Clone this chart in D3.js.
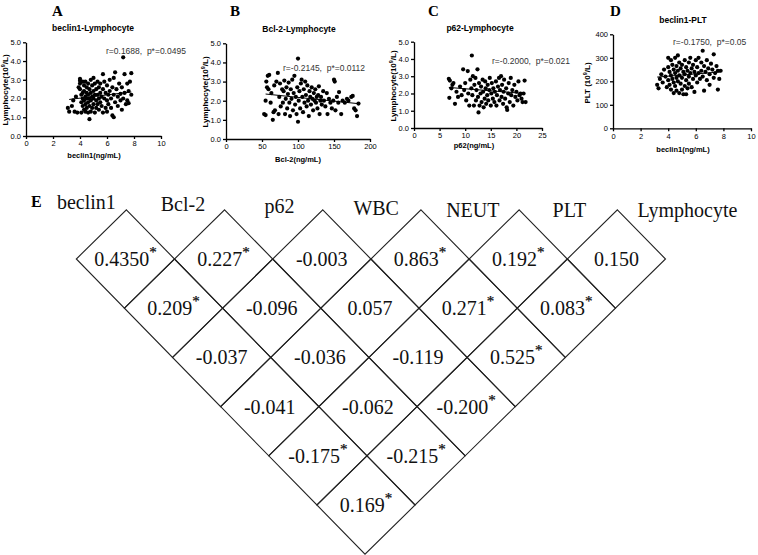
<!DOCTYPE html>
<html>
<head>
<meta charset="utf-8">
<script src="https://cdn.jsdelivr.net/npm/d3@7"></script>
<style>
  body { margin: 0; background: #fff; }
  svg { display: block; }
</style>
</head>
<body>
<svg width="758" height="555"></svg>
<script>
// scatter data: [x, y]
var ptsA = [
  [3.1,1.5],[3.2,1.3],[3.4,1.6],[3.5,1.9],[3.6,1.3],[3.7,2.1],[3.8,1.25],[3.9,2.6],[4.0,3.05],[4.0,2.95],
  [4.0,2.8],[4.0,2.5],[4.1,2.2],[4.1,1.25],[4.1,1.8],[4.2,2.9],[4.2,2.3],[4.2,2.0],[4.2,1.6],[4.3,2.7],
  [4.3,2.4],[4.3,1.9],[4.3,1.4],[4.4,2.9],[4.4,2.1],[4.4,1.7],[4.4,1.3],[4.5,2.6],[4.5,2.3],[4.5,2.0],
  [4.5,1.5],[4.6,2.8],[4.6,2.2],[4.6,1.8],[4.6,1.25],[4.7,0.9],[4.7,2.5],[4.7,2.0],[4.7,1.6],[4.8,3.0],
  [4.8,2.3],[4.8,1.9],[4.8,1.3],[4.9,2.7],[4.9,2.1],[4.9,1.5],[5.0,3.1],[5.0,2.4],[5.0,2.0],[5.0,1.7],
  [5.1,2.8],[5.1,2.2],[5.1,1.25],[5.2,2.5],[5.2,1.9],[5.2,1.5],[5.3,2.9],[5.3,2.2],[5.3,1.7],[5.4,2.6],
  [5.4,2.0],[5.4,1.4],[5.5,2.8],[5.5,2.3],[5.5,1.8],[5.6,2.1],[5.6,1.6],[5.7,3.3],[5.7,2.5],[5.7,1.25],
  [5.8,2.9],[5.8,2.0],[5.9,2.3],[5.9,1.5],[6.0,2.7],[6.0,1.9],[6.0,1.3],[6.1,2.2],[6.1,1.7],[6.2,3.0],
  [6.2,2.4],[6.3,2.0],[6.3,1.5],[6.4,1.1],[6.4,2.6],[6.5,1.0],[6.5,3.1],[6.5,2.2],[6.6,3.4],[6.6,1.8],
  [6.7,2.5],[6.8,2.1],[6.8,1.6],[6.9,2.8],[7.0,2.25],[7.0,1.9],[7.1,1.4],[7.1,2.6],[7.2,4.2],[7.2,2.0],
  [7.3,3.3],[7.3,2.3],[7.4,1.7],[7.5,2.8],[7.5,1.9],[7.6,1.75],[7.6,2.4],[7.7,2.9],[7.8,3.35],[7.8,2.2]
];
var lineA = [[3.2,1.95],[7.8,2.35]];

var ptsB = [
  [53,1.3],[55,1.25],[55,2.0],[56,3.0],[57,2.7],[58,3.3],[59,2.6],[60,3.35],[62,1.9],[63,2.4],
  [65,1.0],[66,1.4],[67,2.8],[68,1.5],[70,3.0],[72,3.45],[73,1.3],[74,2.2],[75,2.9],[76,1.7],
  [78,2.6],[79,1.9],[80,2.5],[81,3.05],[82,1.3],[83,2.1],[84,2.7],[85,1.6],[86,2.35],[87,2.95],
  [88,1.9],[89,1.2],[90,2.6],[91,2.1],[92,3.1],[93,1.5],[94,2.4],[95,3.3],[96,1.8],[97,2.2],
  [98,1.3],[99,2.7],[100,4.2],[100,0.9],[101,2.0],[102,2.5],[103,1.6],[104,2.9],[105,3.1],[106,2.2],
  [107,1.4],[108,2.6],[109,1.9],[110,3.0],[111,2.3],[112,1.7],[113,2.8],[114,2.0],[115,1.2],[116,2.5],
  [117,2.2],[118,1.8],[119,2.7],[120,2.1],[121,1.5],[122,2.4],[123,2.0],[124,2.6],[125,1.9],[126,2.2],
  [127,1.6],[128,2.3],[129,2.75],[130,1.3],[131,2.0],[132,2.2],[133,1.8],[135,2.5],[136,2.0],[138,1.7],
  [140,2.4],[141,1.3],[143,2.1],[145,1.9],[147,1.6],[149,2.0],[150,3.1],[151,3.0],[152,1.5],[154,2.2],
  [156,1.9],[157,2.45],[160,1.3],[162,2.0],[165,1.9],[168,2.1],[170,2.0],[174,2.2],[176,2.25],[178,1.6],
  [180,1.5],[182,1.2],[184,1.85]
];
var lineB = [[55,2.35],[183,1.85]];

var ptsC = [
  [6.8,2.85],[6.9,1.75],[7.0,2.75],[7.3,2.3],[7.5,2.5],[7.7,2.6],[8.0,1.4],[8.3,2.1],[8.6,1.8],[9.0,2.4],
  [9.3,1.9],[9.6,3.4],[9.8,2.2],[10.0,2.6],[10.2,1.6],[10.5,3.3],[10.6,2.0],[10.8,1.3],[11.0,2.8],[11.2,2.3],
  [11.3,4.2],[11.4,1.9],[11.5,3.0],[11.7,1.3],[11.8,2.5],[12.0,2.9],[12.1,1.6],[12.2,2.2],[12.4,3.4],[12.5,1.8],
  [12.6,0.9],[12.7,2.6],[12.8,1.3],[13.0,2.0],[13.1,2.4],[13.2,1.5],[13.4,2.8],[13.5,2.1],[13.6,1.2],[13.8,1.7],
  [13.9,2.7],[14.0,2.3],[14.1,1.4],[14.3,1.9],[14.4,2.5],[14.5,1.6],[14.7,2.2],[14.8,2.9],[15.0,1.3],[15.1,2.0],
  [15.2,2.6],[15.4,1.7],[15.5,2.3],[15.7,1.5],[15.8,2.1],[16.0,2.7],[16.1,1.3],[16.2,1.9],[16.4,2.4],[16.6,2.9],
  [16.7,1.6],[16.8,2.2],[17.0,3.0],[17.1,1.8],[17.2,2.5],[17.4,1.4],[17.5,2.1],[17.6,2.8],[17.8,1.7],[18.0,2.3],
  [18.1,1.2],[18.2,1.05],[18.4,2.0],[18.5,2.6],[18.7,1.5],[18.9,2.9],[19.0,1.9],[19.2,2.2],[19.4,1.3],[19.6,2.5],
  [19.8,1.8],[20.0,2.1],[20.2,1.6],[20.4,2.7],[20.6,1.9],[20.8,2.0],[21.0,1.7],[21.2,1.5],[21.4,2.0],[21.6,2.75],
  [21.8,1.5]
];
var lineC = [[6.8,2.35],[21.5,2.0]];

var ptsD = [
  [3.2,185],[3.3,170],[3.4,210],[3.5,230],[3.6,195],[3.7,250],[3.8,220],[3.9,175],[4.0,300],[4.0,260],
  [4.0,205],[4.1,240],[4.1,185],[4.2,290],[4.2,225],[4.2,165],[4.3,270],[4.3,210],[4.4,250],[4.4,195],
  [4.4,150],[4.5,300],[4.5,235],[4.5,180],[4.6,265],[4.6,215],[4.6,160],[4.7,310],[4.7,245],[4.7,200],
  [4.8,280],[4.8,225],[4.8,150],[4.9,255],[4.9,190],[5.0,270],[5.0,215],[5.0,165],[5.1,240],[5.1,145],
  [5.2,290],[5.2,230],[5.2,180],[5.3,260],[5.3,205],[5.3,145],[5.4,245],[5.4,170],[5.5,280],[5.5,220],
  [5.5,190],[5.6,300],[5.6,235],[5.7,255],[5.7,175],[5.8,270],[5.8,210],[5.9,240],[5.9,155],[6.0,290],
  [6.0,225],[6.1,260],[6.1,195],[6.2,300],[6.2,235],[6.3,210],[6.4,280],[6.4,245],[6.5,330],[6.5,220],
  [6.6,160],[6.6,265],[6.7,240],[6.8,290],[6.8,205],[6.9,255],[7.0,230],[7.0,185],[7.1,275],[7.2,250],
  [7.3,315],[7.3,215],[7.4,235],[7.5,265],[7.6,245],[7.6,165],[7.7,210],[7.8,245]
];
var lineD = [[3.2,218],[7.8,240]];

var ticksLymph = [0, 1, 2, 3, 4, 5];
var ticksBeclin = [0, 2, 4, 6, 8, 10];
var ticksBcl2 = [0, 50, 100, 150, 200];
var ticksP62 = [0, 5, 10, 15, 20, 25];
var ticksPlt = [0, 100, 200, 300, 400];

// correlation matrix (panel E)
var corrVars = ["beclin1", "Bcl-2", "p62", "WBC", "NEUT", "PLT", "Lymphocyte"];
var corrValues = [
  ["0.4350", "0.227", "-0.003", "0.863", "0.192", "0.150"],
  ["0.209", "-0.096", "0.057", "0.271", "0.083"],
  ["-0.037", "-0.036", "-0.119", "0.525"],
  ["-0.041", "-0.062", "-0.200"],
  ["-0.175", "-0.215"],
  ["0.169"]
];
var corrSig = [
  [1, 1, 0, 1, 1, 0],
  [1, 0, 0, 1, 1],
  [0, 0, 0, 1],
  [0, 0, 1],
  [1, 1],
  [1]
];

var svg = d3.select("svg");
var sans = "'Liberation Sans', Arial, sans-serif";
var serif = "'Liberation Serif', 'Times New Roman', serif";

function supLabel(sel, pre, sup, post) {
  sel.append("tspan").text(pre);
  sel.append("tspan").attr("baseline-shift", "super").attr("font-size", "5.5px").text(sup);
  sel.append("tspan").text(post);
}

function panel(c) {
  var x = d3.scaleLinear().domain(c.xDomain).range([c.left, c.right]);
  var y = d3.scaleLinear().domain(c.yDomain).range([c.bottom, c.top]);
  var g = svg.append("g");

  g.append("text")
    .attr("x", c.letterX).attr("y", 16)
    .attr("font-family", serif).attr("font-weight", "bold").attr("font-size", "15px")
    .text(c.letter);

  g.append("text")
    .attr("x", c.titleX).attr("y", c.titleY)
    .attr("text-anchor", "middle")
    .attr("font-family", sans).attr("font-weight", "bold").attr("font-size", "8.5px")
    .text(c.title);

  var ax = g.append("g")
    .attr("transform", "translate(0," + c.bottom + ")")
    .call(d3.axisBottom(x).tickValues(c.xTicks).tickSize(3).tickSizeOuter(0).tickPadding(2));
  var ay = g.append("g")
    .attr("transform", "translate(" + c.left + ",0)")
    .call(d3.axisLeft(y).tickValues(c.yTicks).tickSize(3).tickSizeOuter(0).tickPadding(2));
  [ax, ay].forEach(function(a) {
    a.selectAll("path, line").attr("stroke", "#000").attr("stroke-width", 1.3);
    a.selectAll("text").attr("font-family", sans).attr("font-size", "7.5px").attr("fill", "#000");
  });

  g.append("text")
    .attr("x", c.xLabelX).attr("y", c.xLabelY)
    .attr("text-anchor", "middle")
    .attr("font-family", sans).attr("font-weight", "bold").attr("font-size", "7.5px")
    .text(c.xLabel);

  var yl = g.append("text")
    .attr("transform", "translate(" + c.yLabelX + "," + c.yLabelY + ") rotate(-90)")
    .attr("text-anchor", "middle")
    .attr("font-family", sans).attr("font-weight", "bold").attr("font-size", "8px");
  supLabel(yl, c.yLabel[0], "9", c.yLabel[1]);

  g.selectAll(".dot")
    .data(c.points)
    .enter()
    .append("circle")
    .attr("cx", function(d) { return x(d[0]); })
    .attr("cy", function(d) { return y(d[1]); })
    .attr("r", 2.1)
    .attr("fill", "#000");

  g.append("path")
    .datum(c.line)
    .attr("fill", "none").attr("stroke", "#000").attr("stroke-width", 1)
    .attr("d", d3.line().x(function(d) { return x(d[0]); }).y(function(d) { return y(d[1]); }));

  g.append("text")
    .attr("x", c.noteX).attr("y", c.noteY)
    .attr("font-family", sans).attr("font-size", "8.5px").attr("fill", "#333")
    .attr("xml:space", "preserve")
    .text(c.note);
}

panel({
  letter: "A", letterX: 52, title: "beclin1-Lymphocyte", titleX: 93, titleY: 31,
  xDomain: [0, 10], yDomain: [0, 5], left: 26, right: 161, bottom: 136, top: 42.3,
  xTicks: ticksBeclin, yTicks: ticksLymph, points: ptsA, line: lineA,
  xLabel: "beclin1(ng/mL)", xLabelX: 94, xLabelY: 158,
  yLabel: ["Lymphocyte(10", "/L)"], yLabelX: 8, yLabelY: 90,
  note: "r=0.1688,  p*=0.0495", noteX: 106, noteY: 54
});
panel({
  letter: "B", letterX: 230, title: "Bcl-2-Lymphocyte", titleX: 299, titleY: 32,
  xDomain: [0, 200], yDomain: [0, 5], left: 226, right: 370, bottom: 139, top: 43.3,
  xTicks: ticksBcl2, yTicks: ticksLymph, points: ptsB, line: lineB,
  xLabel: "Bcl-2(ng/mL)", xLabelX: 298, xLabelY: 162,
  yLabel: ["Lymphocyte(10", "/L)"], yLabelX: 208, yLabelY: 92,
  note: "r=-0.2145,  p*=0.0112", noteX: 283, noteY: 71
});
panel({
  letter: "C", letterX: 428, title: "p62-Lymphocyte", titleX: 480, titleY: 31,
  xDomain: [0, 25], yDomain: [0, 5], left: 414, right: 542, bottom: 128, top: 41.7,
  xTicks: ticksP62, yTicks: ticksLymph, points: ptsC, line: lineC,
  xLabel: "p62(ng/mL)", xLabelX: 474, xLabelY: 148,
  yLabel: ["Lymphocyte(10", "/L)"], yLabelX: 396, yLabelY: 86,
  note: "r=-0.2000,  p*=0.021", noteX: 492, noteY: 64
});
panel({
  letter: "D", letterX: 610, title: "beclin1-PLT", titleX: 683, titleY: 23,
  xDomain: [0, 10], yDomain: [0, 400], left: 613, right: 751, bottom: 128.3, top: 34.3,
  xTicks: ticksBeclin, yTicks: ticksPlt, points: ptsD, line: lineD,
  xLabel: "beclin1(ng/mL)", xLabelX: 683, xLabelY: 152,
  yLabel: ["PLT (10", "/L)"], yLabelX: 590, yLabelY: 83,
  note: "r=-0.1750,  p*=0.05", noteX: 673, noteY: 45
});

// panel E: diamond lattice. column k, row r -> x uses k + 0.49*r (slight shear seen in figure)
var gx = d3.scaleLinear().domain([0, 5]).range([125.4, 616.4]);
var gy = d3.scaleLinear().domain([0, 5]).range([259, 505]);
function px(r, k) { return gx(k + 0.49 * r); }
function py(r) { return gy(r); }

var cells = [];
corrValues.forEach(function(row, r) {
  row.forEach(function(v, k) {
    cells.push({ r: r, k: k, v: v, sig: corrSig[r][k] });
  });
});

var gE = svg.append("g");

gE.append("text")
  .attr("x", 31).attr("y", 207)
  .attr("font-family", serif).attr("font-weight", "bold").attr("font-size", "16px")
  .text("E");

gE.selectAll(".cell")
  .data(cells)
  .enter()
  .append("polygon")
  .attr("class", "cell")
  .attr("points", function(d) {
    var pts = [[d.r - 1, d.k + 0.5], [d.r, d.k + 0.5], [d.r + 1, d.k - 0.5], [d.r, d.k - 0.5]];
    return pts.map(function(p) { return px(p[0], p[1]) + "," + py(p[0]); }).join(" ");
  })
  .attr("fill", "none")
  .attr("stroke", "#222")
  .attr("stroke-width", 1.1);

var vt = gE.selectAll(".val")
  .data(cells)
  .enter()
  .append("text")
  .attr("class", "val")
  .attr("x", function(d) { return px(d.r, d.k); })
  .attr("y", function(d) { return py(d.r) + 7; })
  .attr("text-anchor", "middle")
  .attr("font-family", serif)
  .attr("font-size", "20px")
  .attr("fill", "#111");
vt.append("tspan").text(function(d) { return d.v; });
// the asterisk gets a hairline stroke so it renders as a solid dark glyph
vt.filter(function(d) { return d.sig; })
  .append("tspan")
  .attr("dy", -9)
  .attr("font-size", "15px")
  .attr("fill", "#111")
  .attr("stroke", "#111")
  .attr("stroke-width", 0.25)
  .text("*");

// variable names sit between the top corners of the first row
gE.selectAll(".var")
  .data(corrVars)
  .enter()
  .append("text")
  .attr("class", "var")
  .attr("x", function(d, i) { return i < 6 ? gx(i) - 39 - i * 1.6 : gx(5) + 71; })
  .attr("y", function(d, i) { return 209 + Math.min(i, 4) * 2; })
  .attr("text-anchor", "middle")
  .attr("font-family", serif)
  .attr("font-size", "20px")
  .attr("fill", "#111")
  .text(function(d) { return d; });
</script>
</body>
</html>
